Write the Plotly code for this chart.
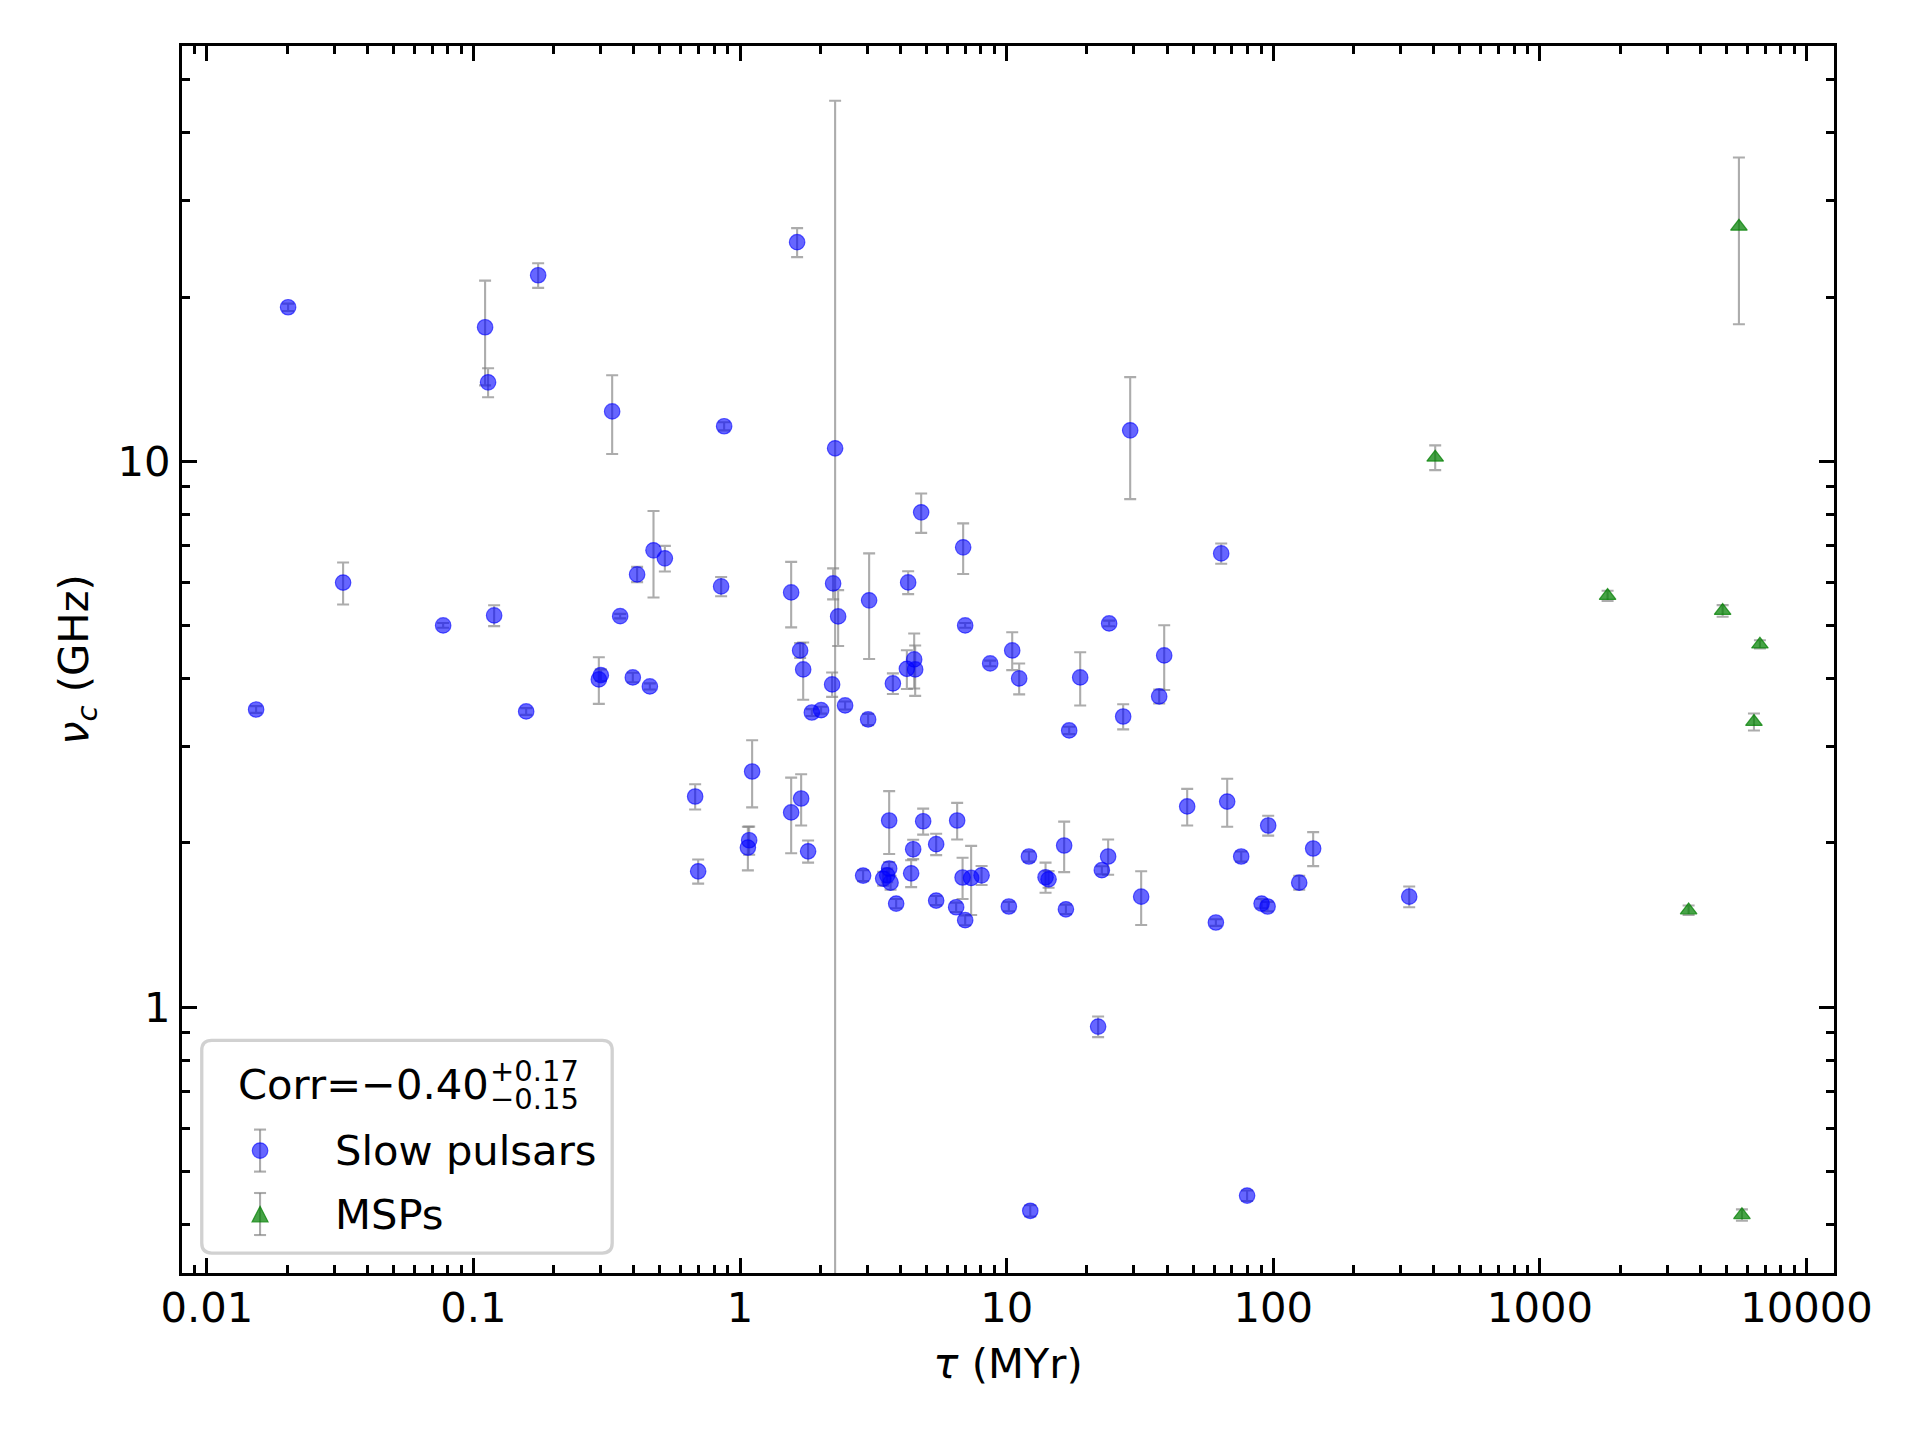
import plotly.graph_objects as go

# ---------------- data ----------------
slow_tau = [0.01531, 0.02018, 0.03245, 0.0770, 0.1106, 0.1135, 0.1196, 0.1577, 0.1749,
            0.2954, 0.3005, 0.3314, 0.3551, 0.3961, 0.4111, 0.4589, 0.4736, 0.5224,
            0.6787, 0.6965, 0.8493, 0.8717, 1.070, 1.082, 1.110, 1.555, 1.555, 1.637,
            1.680, 1.695, 1.725, 1.800, 1.859, 2.014, 2.215, 2.234, 2.273, 2.333, 2.478,
            2.895, 3.023, 3.049, 3.625, 3.563, 3.442, 3.669, 3.625, 3.743, 3.851, 4.224,
            4.499, 4.538, 4.271, 4.383, 4.460, 4.779, 4.862, 5.440, 5.440, 6.465, 6.521,
            6.833, 6.868, 6.989, 6.989, 7.358, 8.052, 8.673, 10.19, 10.49, 11.14, 12.12,
            12.26, 13.99, 14.36, 16.43, 16.68, 17.16, 18.87, 22.03, 22.75, 24.02, 24.23,
            27.35, 29.06, 31.95, 37.33, 38.98, 47.54, 60.91, 63.77, 67.16, 75.80, 79.75,
            90.38, 95.19, 95.70, 125.1, 141.1, 323.4]
slow_nu = [3.512, 19.16, 6.00, 5.007, 17.61, 13.96, 5.223, 3.483, 21.93,
           3.987, 4.060, 12.35, 5.207, 4.021, 6.209, 3.871, 6.873, 6.644,
           2.433, 1.775, 5.903, 11.60, 1.962, 2.023, 2.704, 5.755, 2.275, 25.21,
           4.506, 2.413, 4.159, 1.931, 3.468, 3.502, 3.904, 5.978, 10.57, 5.201, 3.573,
           1.743, 3.368, 5.565, 1.796, 1.745, 1.721, 1.692, 2.199, 3.920, 1.549, 4.170,
           4.338, 4.159, 6.003, 1.760, 1.948, 8.067, 2.192, 1.990, 1.569, 1.525, 2.199,
           1.729, 6.960, 1.444, 5.007, 1.726, 1.745, 4.266, 1.530, 4.506, 4.004, 1.889,
           0.4239, 1.731, 1.716, 1.979, 1.512, 3.215, 4.021, 0.9218, 1.783, 1.889, 5.049,
           3.410, 11.40, 1.595, 3.711, 4.412, 2.333, 1.430, 6.785, 2.382, 1.889, 0.4519,
           1.549, 1.530, 2.153, 1.692, 1.954, 1.595]
slow_err = [0.05, 0.3, 0.53, 0.05, 3.83, 0.85, 0.23, 0.05, 1.14,
            0.39, 0.10, 2.03, 0.05, 0.08, 0.20, 0.05, 1.24, 0.36,
            0.13, 0.09, 0.24, 0.20, 0.18, 0.12, 0.38, 0.79, 0.36, 1.54,
            0.14, 0.26, 0.50, 0.09, 0.05, 0.05, 0.20, 0.39, 35.2, 0.61, 0.06,
            0.04, 0.08, 1.22, 0.05, 0.05, 0.05, 0.05, 0.29, 0.17, 0.03, 0.34,
            0.50, 0.44, 0.29, 0.10, 0.08, 0.67, 0.12, 0.09, 0.03, 0.03, 0.17,
            0.15, 0.74, 0.03, 0.05, 0.25, 0.07, 0.05, 0.03, 0.36, 0.26, 0.04,
            0.01, 0.11, 0.06, 0.21, 0.03, 0.05, 0.45, 0.04, 0.03, 0.14, 0.06,
            0.18, 2.87, 0.18, 0.11, 0.60, 0.18, 0.02, 0.29, 0.24, 0.04, 0.01,
            0.03, 0.03, 0.09, 0.05, 0.14, 0.07]

msp_tau = [404.8, 1794, 3612, 4845, 5577, 5724, 6350, 6686]
msp_nu = [10.17, 5.674, 1.506, 5.325, 26.93, 0.4165, 3.334, 4.622]
msp_err = [0.53, 0.12, 0.03, 0.13, 9.1, 0.01, 0.12, 0.08]

x_ticks = [0.01, 0.1, 1, 10, 100, 1000, 10000]
x_ticktext = ["0.01", "0.1", "1", "10", "100", "1000", "10000"]
y_ticks = [1, 10]
y_ticktext = ["1", "10"]

corr_text = "Corr=\u22120.40"
corr_plus = "+0.17"
corr_minus = "\u22120.15"
legend_labels = ["Slow pulsars", "MSPs"]

# ---------------- geometry ----------------
W, H = 1920, 1440
LW = 3.3
# plotly draws the axis line just outside the plot area; shift by half a line width
L, R, T, B = 180.6 + LW / 2, 84.3 + LW / 2, 44.5 + LW / 2, 165.8 + LW / 2
PW, PH = W - L - R, H - T - B
FONT = "DejaVu Sans"
FS = 41.7


def px(xf):
    return (xf - L) / PW


def py(yf):
    return (H - B - yf) / PH


def minor_vals(lo_exp, hi_exp):
    out = []
    for e in range(lo_exp, hi_exp + 1):
        for m in range(2, 10):
            out.append(m * 10 ** e)
    return out


ERR_COLOR = "rgba(128,128,128,0.65)"
BLUE = "rgba(0,0,255,0.6)"
GREEN_FILL = "rgba(0,128,0,0.72)"
GREEN_LINE = "rgba(0,128,0,0.72)"

fig = go.Figure()
fig.add_trace(go.Scatter(
    x=slow_tau, y=slow_nu, mode="markers", name=legend_labels[0],
    marker=dict(symbol="circle", size=15.5, color=BLUE,
                line=dict(color=BLUE, width=1.2)),
    error_y=dict(type="data", array=slow_err, symmetric=True,
                 color=ERR_COLOR, thickness=2.1, width=6),
))
fig.add_trace(go.Scatter(
    x=msp_tau, y=msp_nu, mode="markers", name=legend_labels[1],
    marker=dict(symbol="triangle-up", size=14.5, color=GREEN_FILL,
                line=dict(color=GREEN_LINE, width=1.2)),
    error_y=dict(type="data", array=msp_err, symmetric=True,
                 color=ERR_COLOR, thickness=2.1, width=6),
))

axis_common = dict(
    type="log", showline=True, linewidth=LW, linecolor="black",
    mirror="allticks", ticks="inside", ticklen=14.6, tickwidth=3.3,
    tickcolor="black", showgrid=False, zeroline=False, tickmode="array",
    tickfont=dict(family=FONT, size=FS, color="black"),
)

fig.update_xaxes(
    **axis_common, range=[-2.093, 4.103], tickvals=x_ticks, ticktext=x_ticktext,
    ticklabelstandoff=-4,
    minor=dict(ticks="inside", ticklen=8.3, tickwidth=2.5, tickcolor="black",
               tickvals=minor_vals(-3, 4), showgrid=False),
    title=dict(text="<i>\u03c4</i> (MYr)", font=dict(family=FONT, size=FS), standoff=18),
)
fig.update_yaxes(
    **axis_common, range=[-0.4867, 1.761], tickvals=y_ticks, ticktext=y_ticktext,
    minor=dict(ticks="inside", ticklen=8.3, tickwidth=2.5, tickcolor="black",
               tickvals=minor_vals(-1, 1), showgrid=False),
    title=dict(text="<i>\u03bd</i><sub><i>c</i></sub> (GHz)", font=dict(family=FONT, size=FS),
               standoff=16),
)

# ---------------- legend (drawn by hand to reproduce matplotlib's errorbar legend) ----------------
shapes = []
bx0, bx1, by0, by1, rr = 202.0, 612.4, 1040.0, 1252.6, 10.0


def rounded_rect(x0, y0, x1, y1, r):
    pts = []
    pts.append(f"M {px(x0 + r)},{py(y0)}")
    pts.append(f"L {px(x1 - r)},{py(y0)}")
    pts.append(f"Q {px(x1)},{py(y0)} {px(x1)},{py(y0 + r)}")
    pts.append(f"L {px(x1)},{py(y1 - r)}")
    pts.append(f"Q {px(x1)},{py(y1)} {px(x1 - r)},{py(y1)}")
    pts.append(f"L {px(x0 + r)},{py(y1)}")
    pts.append(f"Q {px(x0)},{py(y1)} {px(x0)},{py(y1 - r)}")
    pts.append(f"L {px(x0)},{py(y0 + r)}")
    pts.append(f"Q {px(x0)},{py(y0)} {px(x0 + r)},{py(y0)} Z")
    return " ".join(pts)


shapes.append(dict(type="path", xref="paper", yref="paper",
                   path=rounded_rect(bx0, by0, bx1, by1, rr),
                   fillcolor="rgba(255,255,255,0.8)",
                   line=dict(color="rgba(204,204,204,0.9)", width=3.3), layer="above"))

gx = 260.3
for cy in (1150.2, 1213.6):
    shapes.append(dict(type="line", xref="paper", yref="paper",
                       x0=px(gx), x1=px(gx), y0=py(cy - 21), y1=py(cy + 21),
                       line=dict(color=ERR_COLOR, width=2.1), layer="above"))
    for cc in (cy - 21, cy + 21):
        shapes.append(dict(type="line", xref="paper", yref="paper",
                           x0=px(gx - 6), x1=px(gx + 6), y0=py(cc), y1=py(cc),
                           line=dict(color=ERR_COLOR, width=2.1), layer="above"))

shapes.append(dict(type="circle", xref="paper", yref="paper",
                   x0=px(gx - 7.8), x1=px(gx + 7.8), y0=py(1150.2 + 7.8), y1=py(1150.2 - 7.8),
                   fillcolor=BLUE, line=dict(color=BLUE, width=1.2), layer="above"))
tri = (f"M {px(gx)},{py(1205.8)} L {px(gx + 8)},{py(1221.4)} "
       f"L {px(gx - 8)},{py(1221.4)} Z")
shapes.append(dict(type="path", xref="paper", yref="paper", path=tri,
                   fillcolor=GREEN_FILL, line=dict(color=GREEN_LINE, width=1.2), layer="above"))

annotations = [
    dict(text=legend_labels[0], x=px(333), y=py(1150), xref="paper", yref="paper",
         xanchor="left", yanchor="middle", showarrow=False,
         font=dict(family=FONT, size=FS, color="black")),
    dict(text=legend_labels[1], x=px(333), y=py(1213.6), xref="paper", yref="paper",
         xanchor="left", yanchor="middle", showarrow=False,
         font=dict(family=FONT, size=FS, color="black")),
    dict(text=corr_text, x=px(236), y=py(1084), xref="paper", yref="paper",
         xanchor="left", yanchor="middle", showarrow=False,
         font=dict(family=FONT, size=FS, color="black")),
    dict(text=corr_plus, x=px(488), y=py(1071), xref="paper", yref="paper",
         xanchor="left", yanchor="middle", showarrow=False,
         font=dict(family=FONT, size=29, color="black")),
    dict(text=corr_minus, x=px(488), y=py(1099), xref="paper", yref="paper",
         xanchor="left", yanchor="middle", showarrow=False,
         font=dict(family=FONT, size=29, color="black")),
]

fig.update_layout(
    width=W, height=H, margin=dict(l=L, r=R, t=T, b=B, pad=0),
    plot_bgcolor="white", paper_bgcolor="white", showlegend=False,
    font=dict(family=FONT, size=FS, color="black"),
    shapes=shapes, annotations=annotations,
)

fig.write_html("out.html")
